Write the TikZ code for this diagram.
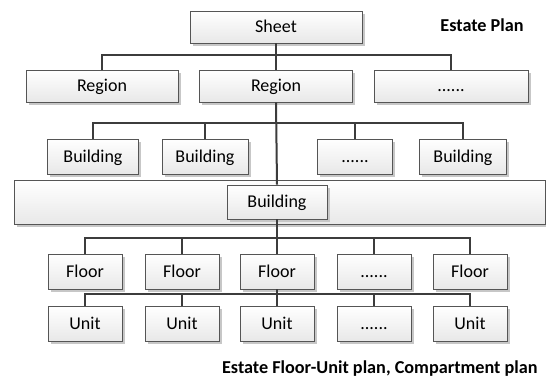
\documentclass[tikz,border=0pt]{standalone}
\usepackage{fontspec}
\setmainfont{Carlito}
\usepackage{tikz}
\usetikzlibrary{positioning,shadows}
\definecolor{boxline}{HTML}{555555}
\definecolor{busline}{HTML}{3C3C3C}
\newcommand{\moredots}{......}
\tikzset{box/.style={draw=boxline,line width=0.9pt,top color=white,bottom color=black!9,
    drop shadow={shadow xshift=2.5pt,shadow yshift=-2.5pt,fill=black!22,opacity=1},
    inner sep=0pt,text height=11.6pt,text depth=0pt,font=\fontsize{18}{21}\selectfont}}
\tikzset{bus/.style={draw=busline,line width=2pt}}
\tikzset{title/.style={font=\fontsize{18.2}{21}\selectfont\bfseries}}

\begin{document}
\begin{tikzpicture}[x=1pt,y=-1pt]
      \useasboundingbox (0,0) rectangle (546,381);
      \node[box,minimum width=172,minimum height=32](sheet) at (276,27){Sheet};
      \node[title](estate) at (482,25){Estate Plan};

      \node[box,minimum width=152,minimum height=32](reg1) at (102,86){Region};
      \node[box,minimum width=153,minimum height=32](reg2) at (276,86){Region};
      \node[box,minimum width=154,minimum height=32](reg3) at (451,86){\moredots};

      \node[box,minimum width=91,minimum height=35](bld1) at (93,156.5){Building};
      \node[box,minimum width=86,minimum height=35](bld2) at (205,156.5){Building};
      \node[box,minimum width=75,minimum height=35](bld3) at (355,156.5){\moredots};
      \node[box,minimum width=87,minimum height=35](bld4) at (463,156.5){Building};

      \node[box,minimum width=531,minimum height=44](frame) at (279.5,202){};
      \node[box,minimum width=100,minimum height=34](bld) at (277,202){Building};

      \foreach \x/\t/\u [count=\i] in {85/Floor/Unit,182/Floor/Unit,277/Floor/Unit,374/\moredots/\moredots,470/Floor/Unit}{
        \node[box,minimum width=74,minimum height=35](flr\i) at (\x,271.5){\t};
        \node[box,minimum width=74,minimum height=35](unit\i) at (\x,323.5){\u};
      }

      \node[title,anchor=east](plans) at (541,369){Estate Floor-Unit plan, Compartment plan};

      \coordinate (busA) at (0,55);
      \coordinate (busB) at (0,123);
      \coordinate (busC) at (0,238);
      \coordinate (busD) at (0,294);

      \draw[bus] (sheet.south) -- (sheet.south |- busA);
      \draw[bus] (reg1.north) |- (reg3.north |- busA) -- (reg3.north);
      \draw[bus] (reg2.north) -- (reg2.north |- busA);
      \draw[bus] (reg2.south) -- (bld.north);
      \draw[bus] (bld1.north) |- (bld4.north |- busB) -- (bld4.north);
      \draw[bus] (bld2.north) -- (bld2.north |- busB);
      \draw[bus] (bld3.north) -- (bld3.north |- busB);
      \draw[bus] (bld.south) -- (flr3.north);
      \draw[bus] (flr1.north) |- (flr5.north |- busC) -- (flr5.north);
      \draw[bus] (flr2.north) -- (flr2.north |- busC);
      \draw[bus] (flr4.north) -- (flr4.north |- busC);
      \draw[bus] (flr3.south) -- (unit3.north);
      \draw[bus] (unit1.north) |- (unit5.north |- busD) -- (unit5.north);
      \draw[bus] (unit2.north) -- (unit2.north |- busD);
      \draw[bus] (unit4.north) -- (unit4.north |- busD);
\end{tikzpicture}
\end{document}
